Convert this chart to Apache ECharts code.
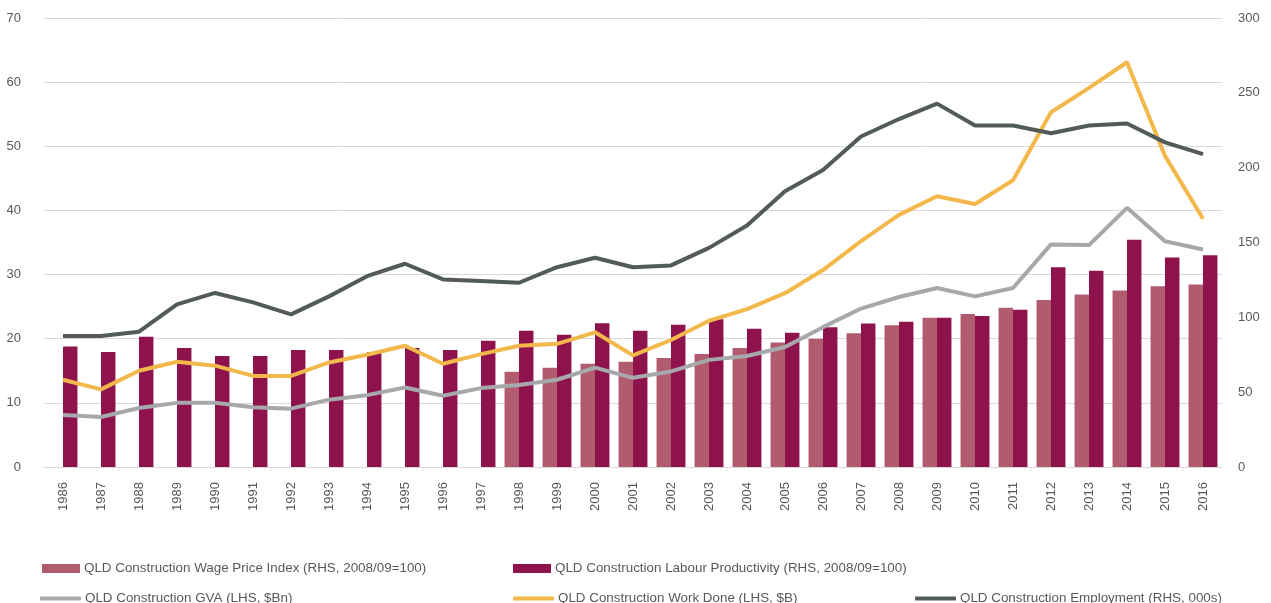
<!DOCTYPE html>
<html>
<head>
<meta charset="utf-8">
<script src="https://cdn.jsdelivr.net/npm/echarts@6/dist/echarts.min.js"></script>
<style>
html,body{margin:0;padding:0;background:#fff;}
#chart{width:1271px;height:603px;}
</style>
</head>
<body>
<div id="chart"></div>
<script>
const years = ['1986','1987','1988','1989','1990','1991','1992','1993','1994','1995','1996','1997','1998','1999','2000','2001','2002','2003','2004','2005','2006','2007','2008','2009','2010','2011','2012','2013','2014','2015','2016'];
const leftTicks = [0,10,20,30,40,50,60,70];
const rightTicks = [0,50,100,150,200,250,300];

const wageIndex = [null,null,null,null,null,null,null,null,null,null,null,null,63.7,66.3,69.0,70.3,72.8,75.5,79.5,83.2,85.7,89.3,94.7,99.8,102.2,106.4,111.5,115.3,118.0,120.7,122.0];
const labourProd = [80.5,76.8,87.0,79.5,74.1,74.1,78.1,78.1,76.8,79.5,78.1,84.3,91.0,88.3,96.1,91.0,95.0,98.8,92.3,89.7,93.3,95.8,97.1,99.8,100.9,105.1,133.5,131.1,151.8,140.0,141.5];
const gva = [8.1,7.8,9.2,10.0,10.0,9.3,9.1,10.5,11.2,12.4,11.1,12.3,12.8,13.6,15.5,13.9,14.9,16.7,17.3,18.7,21.8,24.7,26.5,27.9,26.6,27.9,34.7,34.6,40.4,35.2,33.9];
const workDone = [13.6,12.1,15.0,16.4,15.8,14.2,14.2,16.3,17.5,18.9,16.1,17.6,18.9,19.2,21.0,17.4,19.8,22.8,24.6,27.1,30.7,35.2,39.3,42.2,41.0,44.7,55.3,59.1,63.1,48.5,38.7];
const employment = [87.5,87.5,90.4,108.7,116.3,110,102,114,127.5,135.8,125.3,124.2,123.1,133.5,139.8,133.5,134.7,146.4,161.3,184.2,198.5,220.8,232.5,242.8,228.2,228.2,223.0,228.2,229.5,216.9,209.0];

const names = {
  wage: 'QLD Construction Wage Price Index (RHS, 2008/09=100)',
  prod: 'QLD Construction Labour Productivity (RHS, 2008/09=100)',
  gva: 'QLD Construction GVA (LHS, $Bn)',
  work: 'QLD Construction Work Done (LHS, $B)',
  emp: 'QLD Construction Employment (RHS, 000s)'
};
const colors = {wage:'#B05C6E', prod:'#8E124C', gva:'#A7A8AB', work:'#F2B84B', emp:'#535B59'};

const font = 'Arial, "Liberation Sans", sans-serif';
const txt = '#595959';

function legend(name, icon, left, top, w, h){
  return {
    data:[{name:name, icon:icon}], left:left, top:top, itemWidth:w, itemHeight:h,
    itemGap:0, padding:0, selectedMode:false,
    textStyle:{color:txt, fontSize:13.4, fontFamily:font, padding:[0,0,0,-1]}
  };
}

const chart = echarts.init(document.getElementById('chart'));
chart.setOption({
  animation:false,
  backgroundColor:'#ffffff',
  grid:{left:44, right:49, top:18, bottom:136, containLabel:false},
  legend:[
    legend(names.wage,'rect',42,562,38,9),
    legend(names.prod,'rect',513,562,38,9),
    legend(names.gva,'roundRect',40,592,41,4),
    legend(names.work,'roundRect',513,592,41,4),
    legend(names.emp,'roundRect',915,592,41,4)
  ],
  xAxis:{
    type:'category', data:years,
    axisLine:{show:true, lineStyle:{color:'#D9D9D9', width:1}},
    axisTick:{show:false},
    axisLabel:{rotate:90, color:txt, fontSize:13, fontFamily:font, margin:15, interval:0}
  },
  yAxis:[
    {type:'value', min:0, max:70, interval:10, position:'left',
     axisLine:{show:false}, axisTick:{show:false},
     axisLabel:{color:txt, fontSize:13, fontFamily:font, margin:23,
       formatter:function(v){return leftTicks.indexOf(v)>=0?String(v):'';}},
     splitLine:{show:true, lineStyle:{color:'#D9D9D9', width:1}}},
    {type:'value', min:0, max:300, interval:50, position:'right',
     axisLine:{show:false}, axisTick:{show:false},
     axisLabel:{color:txt, fontSize:13, fontFamily:font, margin:16,
       formatter:function(v){return rightTicks.indexOf(v)>=0?String(v):'';}},
     splitLine:{show:false}}
  ],
  series:[
    {name:names.wage, type:'bar', yAxisIndex:1, data:wageIndex, barGap:'0%', barCategoryGap:'24%',
     itemStyle:{color:colors.wage}, z:1},
    {name:names.prod, type:'bar', yAxisIndex:1, data:labourProd, barGap:'0%', barCategoryGap:'24%',
     itemStyle:{color:colors.prod}, z:1},
    {name:names.gva, type:'line', yAxisIndex:0, data:gva, symbol:'none', smooth:false,
     lineStyle:{color:colors.gva, width:4}, itemStyle:{color:colors.gva}, z:3},
    {name:names.work, type:'line', yAxisIndex:0, data:workDone, symbol:'none', smooth:false,
     lineStyle:{color:colors.work, width:4}, itemStyle:{color:colors.work}, z:3},
    {name:names.emp, type:'line', yAxisIndex:1, data:employment, symbol:'none', smooth:false,
     lineStyle:{color:colors.emp, width:4}, itemStyle:{color:colors.emp}, z:3}
  ]
});
</script>
</body>
</html>
